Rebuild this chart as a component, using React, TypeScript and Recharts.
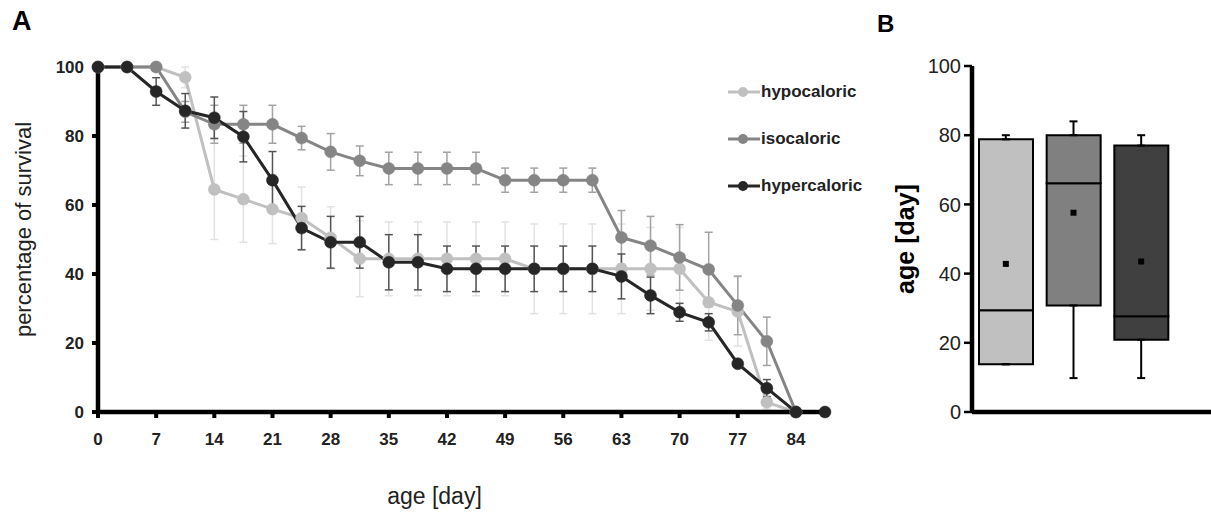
import {
  ComposedChart, Line, Bar, Cell, Scatter, XAxis, YAxis, ErrorBar, Legend, Label,
} from 'recharts'

// panel A: survival curves
const days = [0, 3.5, 7, 10.5, 14, 17.5, 21, 24.5, 28, 31.5, 35, 38.5, 42, 45.5, 49, 52.5, 56, 59.5, 63, 66.5, 70, 73.5, 77, 80.5, 84, 87.5]
const hypo = [100, 100, 100, 97, 64.5, 61.7, 58.8, 56.2, 50.5, 44.4, 44.4, 44.4, 44.4, 44.4, 44.4, 41.5, 41.5, 41.5, 41.5, 41.5, 41.5, 31.8, 29.1, 2.8, 0, null]
const hypoErr = [0, 0, 0, 3, 14.5, 12.5, 10, 9, 9, 11, 10.7, 10.7, 10.7, 10.7, 10.7, 13, 13, 13, 13, 12, 12, 11, 10, 2, 0, null]
const iso = [100, 100, 100, 87, 83.4, 83.4, 83.4, 79.4, 75.4, 72.8, 70.6, 70.6, 70.6, 70.6, 67.2, 67.2, 67.2, 67.2, 50.6, 48.2, 44.8, 41.3, 30.9, 20.5, 0, null]
const isoErr = [0, 0, 0, 3, 5.5, 5.5, 5.5, 3.4, 5.3, 4.3, 4.7, 4.7, 4.7, 4.7, 3.5, 3.5, 3.5, 3.5, 7.8, 8.5, 9.5, 10.8, 8.5, 7, 0, null]
const hyper = [100, 100, 92.9, 87.3, 85.3, 79.8, 67.2, 53.3, 49.2, 49.2, 43.4, 43.4, 41.5, 41.5, 41.5, 41.5, 41.5, 41.5, 39.3, 33.8, 28.9, 26, 14, 6.9, 0, 0]
const hyperErr = [0, 0, 4, 5, 6, 7.3, 8.3, 6.3, 7.5, 7.5, 8, 8, 6.6, 6.6, 6.6, 6.6, 6.6, 6.6, 6.5, 5.3, 2.6, 2.5, 1, 2.5, 0, 0]
const dayTicks = [0, 7, 14, 21, 28, 35, 42, 49, 56, 63, 70, 77, 84]
const pctTicks = [0, 20, 40, 60, 80, 100]

const seriesNames = ['hypocaloric', 'isocaloric', 'hypercaloric']
const seriesColors = ['#c0c0c0', '#858585', '#262626']
const errColors = ['#e2e2e2', '#a3a3a3', '#555555']

// panel B: lifespan box plot
const boxMin = [13.8, 9.8, 9.8]
const boxQ1 = [13.8, 30.8, 20.9]
const boxMedian = [29.4, 66.1, 27.7]
const boxQ3 = [78.8, 80, 77]
const boxMax = [80, 84, 80]
const boxMean = [42.8, 57.6, 43.5]
const boxColors = ['#c0c0c0', '#808080', '#404040']
const ageTicks = [0, 20, 40, 60, 80, 100]

const lineData = days.map((day, i) => ({
  day,
  hypo: hypo[i], hypoErr: hypoErr[i],
  iso: iso[i], isoErr: isoErr[i],
  hyper: hyper[i], hyperErr: hyperErr[i],
}))

const boxData = seriesNames.map((name, i) => ({
  name,
  base: boxQ1[i],
  lower: boxMedian[i] - boxQ1[i],
  upper: boxQ3[i] - boxMedian[i],
  q1: boxQ1[i],
  q3: boxQ3[i],
  mean: boxMean[i],
  upperErr: [0, boxMax[i] - boxQ3[i]],
  lowerErr: [boxQ1[i] - boxMin[i], 0],
}))

const font = '"Liberation Sans", Arial, sans-serif'

function LegendBox() {
  return (
    <div style={{ fontFamily: font, fontWeight: 'bold', fontSize: 17, color: '#222' }}>
      {seriesNames.map((name, i) => (
        <div key={name} style={{ display: 'flex', alignItems: 'center', height: 47 }}>
          <svg width={32} height={14}>
            <line x1={0} y1={7} x2={32} y2={7} stroke={seriesColors[i]} strokeWidth={3} />
            <circle cx={15} cy={7} r={5} fill={seriesColors[i]} />
          </svg>
          <span style={{ marginLeft: 1 }}>{name}</span>
        </div>
      ))}
    </div>
  )
}

const Invisible = () => <g />
const MeanMark = (p: any) => <rect x={p.cx - 3} y={p.cy - 3} width={6} height={6} fill="#000" />

export default function App() {
  const keys = ['hypo', 'iso', 'hyper']
  return (
    <div style={{ position: 'absolute', left: 0, top: 0, width: 1211, height: 512, background: '#fff', fontFamily: font }}>
      <div style={{ position: 'absolute', left: 12, top: 8, fontSize: 27, fontWeight: 'bold', lineHeight: 1 }}>A</div>
      <div style={{ position: 'absolute', left: 877, top: 12, fontSize: 24, fontWeight: 'bold', lineHeight: 1 }}>B</div>

      <div style={{ position: 'absolute', left: 0, top: 0 }}>
        <ComposedChart width={870} height={512} data={lineData} margin={{ top: 67, right: 45, bottom: 0, left: 0 }}>
          <XAxis
            dataKey="day" type="number" domain={[0, 87.5]} ticks={dayTicks} height={100}
            axisLine={{ stroke: '#000', strokeWidth: 4.5 }}
            tickLine={{ stroke: '#000', strokeWidth: 4 }} tickSize={6} tickMargin={15}
            tick={{ fontSize: 17, fontWeight: 'bold', fill: '#222' }}
          >
            <Label value="age [day]" position="center" dx={-27} dy={34} style={{ fontSize: 23, fill: '#222' }} />
          </XAxis>
          <YAxis
            domain={[0, 100]} ticks={pctTicks} width={98}
            axisLine={{ stroke: '#000', strokeWidth: 4.5 }}
            tickLine={{ stroke: '#000', strokeWidth: 4 }} tickSize={6} tickMargin={8}
            tick={{ fontSize: 17, fontWeight: 'bold', fill: '#222' }}
          >
            <Label value="percentage of survival" angle={-90} position="center" dx={-26} dy={-10} style={{ fontSize: 22, fill: '#222' }} />
          </YAxis>
          {keys.map((k, i) => (
            <Line
              key={k} dataKey={k} name={seriesNames[i]} stroke={seriesColors[i]} strokeWidth={3}
              dot={{ r: 6, fill: seriesColors[i], stroke: seriesColors[i], strokeWidth: 0.5 }}
              activeDot={false} isAnimationActive={false}
            >
              <ErrorBar dataKey={k + 'Err'} direction="y" width={4} stroke={errColors[i]} strokeWidth={1.5} />
            </Line>
          ))}
          <Legend
            layout="vertical" align="center" verticalAlign="middle"
            wrapperStyle={{ left: 728, top: 68, width: 170 }}
            content={() => <LegendBox />}
          />
        </ComposedChart>
      </div>

      <div style={{ position: 'absolute', left: 860, top: 0 }}>
        <ComposedChart width={351} height={512} data={boxData} margin={{ top: 66, right: 0, bottom: 0, left: 0 }}>
          <XAxis
            dataKey="name" type="category" height={100} tick={false} tickLine={false}
            padding={{ left: 0, right: 36 }}
            axisLine={{ stroke: '#000', strokeWidth: 4.5 }}
          />
          <YAxis
            domain={[0, 100]} ticks={ageTicks} width={112}
            axisLine={{ stroke: '#000', strokeWidth: 4.5 }}
            tickLine={{ stroke: '#000', strokeWidth: 2.5 }} tickSize={8} tickMargin={3}
            tick={{ fontSize: 20, fill: '#222' }}
          >
            <Label value="age [day]" angle={-90} position="center" dx={-11} style={{ fontSize: 25, fontWeight: 'bold', fill: '#000' }} />
          </YAxis>
          <Scatter dataKey="q3" shape={Invisible} isAnimationActive={false}>
            <ErrorBar dataKey="upperErr" direction="y" width={4} stroke="#000" strokeWidth={2} />
          </Scatter>
          <Scatter dataKey="q1" shape={Invisible} isAnimationActive={false}>
            <ErrorBar dataKey="lowerErr" direction="y" width={4} stroke="#000" strokeWidth={2} />
          </Scatter>
          <Bar dataKey="base" stackId="box" fill="transparent" barSize={54} isAnimationActive={false} />
          <Bar dataKey="lower" stackId="box" stroke="#000" strokeWidth={2} barSize={54} isAnimationActive={false}>
            {boxData.map((d, i) => <Cell key={d.name} fill={boxColors[i]} />)}
          </Bar>
          <Bar dataKey="upper" stackId="box" stroke="#000" strokeWidth={2} barSize={54} isAnimationActive={false}>
            {boxData.map((d, i) => <Cell key={d.name} fill={boxColors[i]} />)}
          </Bar>
          <Scatter dataKey="mean" shape={MeanMark} isAnimationActive={false} />
        </ComposedChart>
      </div>
    </div>
  )
}
